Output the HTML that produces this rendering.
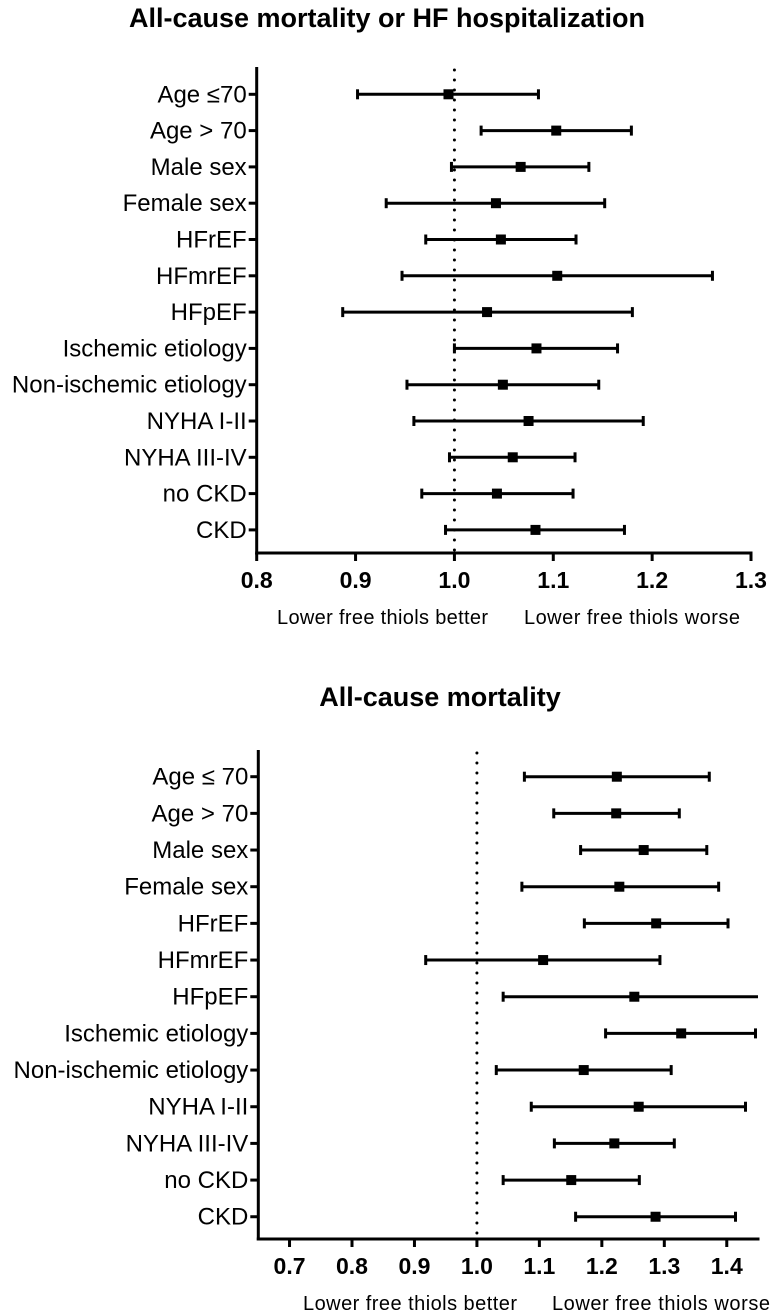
<!DOCTYPE html>
<html><head><meta charset="utf-8"><style>
html,body{margin:0;padding:0;background:#fff}
svg{display:block}
text{font-family:"Liberation Sans",Arial,sans-serif;fill:#000}
</style></head><body>
<svg id="fig" width="774" height="1314" viewBox="0 0 774 1314" xmlns="http://www.w3.org/2000/svg"></svg>
<script>
const categoriesTop = ["Age \u226470","Age > 70","Male sex","Female sex","HFrEF","HFmrEF","HFpEF","Ischemic etiology","Non-ischemic etiology","NYHA I-II","NYHA III-IV","no CKD","CKD"];
const pointTop = [0.994,1.103,1.067,1.042,1.047,1.104,1.033,1.083,1.049,1.075,1.059,1.043,1.082];
const lowerTop = [0.902,1.027,0.997,0.931,0.971,0.947,0.887,1.000,0.952,0.959,0.995,0.967,0.991];
const upperTop = [1.085,1.179,1.136,1.152,1.123,1.261,1.180,1.165,1.146,1.191,1.122,1.120,1.172];
const ticksTop = ["0.8","0.9","1.0","1.1","1.2","1.3"];

const categoriesBot = ["Age \u2264 70","Age > 70","Male sex","Female sex","HFrEF","HFmrEF","HFpEF","Ischemic etiology","Non-ischemic etiology","NYHA I-II","NYHA III-IV","no CKD","CKD"];
const pointBot = [1.224,1.223,1.267,1.228,1.287,1.106,1.252,1.327,1.171,1.259,1.220,1.151,1.286];
const lowerBot = [1.076,1.123,1.166,1.072,1.172,0.918,1.042,1.206,1.031,1.087,1.124,1.042,1.158];
const upperBot = [1.372,1.324,1.368,1.387,1.402,1.293,1.46,1.446,1.311,1.430,1.316,1.260,1.414];
const ticksBot = ["0.7","0.8","0.9","1.0","1.1","1.2","1.3","1.4"];

const NS="http://www.w3.org/2000/svg";
const svg=document.getElementById('fig');
function mk(tag,attrs,parent){const e=document.createElementNS(NS,tag);for(const k in attrs)e.setAttribute(k,attrs[k]);(parent||svg).appendChild(e);return e;}

function panel(o){
  const g=mk('g',{});
  
  
  const xs=v=>o.x0+(v-o.vmin)/(o.vmax-o.vmin)*(o.x1-o.x0);
  const ys=i=>o.yFirst+i*o.dy;
  const t=mk('text',{x:o.titleX,y:o.titleY,'text-anchor':'middle','font-size':27,'font-weight':'bold'},g);
  t.textContent=o.title;
  
  
  const ref=mk('line',{x1:xs(1),x2:xs(1),y1:o.yTop+3,y2:o.yAxis,stroke:'#000','stroke-width':3,'stroke-linecap':'round','stroke-dasharray':'0 10'},g);
  
  
  const ya=mk('line',{x1:o.x0,x2:o.x0,y1:o.yTop,y2:o.yAxis+1.5,stroke:'#000','stroke-width':3},g);
  
  
  const xa=mk('line',{x1:o.x0-1.5,x2:o.x1+1.5,y1:o.yAxis,y2:o.yAxis,stroke:'#000','stroke-width':3},g);
  
  
  o.ticks.forEach(tk=>{
    const v=parseFloat(tk),x=xs(v);
    const l=mk('line',{x1:x,x2:x,y1:o.yAxis,y2:o.yAxis+8,stroke:'#000','stroke-width':3},g);
    
    
    const tt=mk('text',{x:x,y:o.yAxis+35,'text-anchor':'middle','font-size':23,'font-weight':'bold'},g);
    tt.textContent=tk;
    
    
  });
  o.cats.forEach((c,i)=>{
    const y=ys(i);
    const tl=mk('line',{x1:o.x0-8,x2:o.x0,y1:y,y2:y,stroke:'#000','stroke-width':3},g);
    
    
    const lab=mk('text',{x:o.x0-10,y:y+8,'text-anchor':'end','font-size':o.labelSize},g);
    lab.textContent=c;
    
    
    const lo=Math.max(o.lower[i],o.vmin), hi=Math.min(o.upper[i],o.vmax);
    const eb=mk('line',{x1:xs(lo),x2:xs(hi),y1:y,y2:y,stroke:'#000','stroke-width':3},g);
    
    
    [[o.lower[i],lo],[o.upper[i],hi]].forEach(([raw,cl])=>{
      if(raw===cl){
        const cap=mk('line',{x1:xs(cl),x2:xs(cl),y1:y-5,y2:y+5,stroke:'#000','stroke-width':3},g);
        
        
      }
    });
    const px=xs(o.point[i]);
    const m=mk('rect',{x:px-5,y:y-5,width:10,height:10,fill:'#000'},g);
    
    
  });
  const f1=mk('text',{x:o.fb[0],y:o.footY,'font-size':20,textLength:o.fb[1]-o.fb[0]},g);
  f1.textContent='Lower free thiols better';
  
  
  const f2=mk('text',{x:o.fw[0],y:o.footY,'font-size':20,textLength:o.fw[1]-o.fw[0]},g);
  f2.textContent='Lower free thiols worse';
  
  
}

panel({name:'top-chart-mortality-or-hf-hospitalization',title:'All-cause mortality or HF hospitalization',titleX:387,titleY:27,
  cats:categoriesTop,point:pointTop,lower:lowerTop,upper:upperTop,ticks:ticksTop,
  vmin:0.8,vmax:1.3,x0:256.7,x1:751,yTop:67,yAxis:553,yFirst:94.3,dy:36.3,labelSize:24,
  footY:624,fb:[277,488],fw:[524,740]});
panel({name:'bottom-chart-all-cause-mortality',title:'All-cause mortality',titleX:440,titleY:706,
  cats:categoriesBot,point:pointBot,lower:lowerBot,upper:upperBot,ticks:ticksBot,
  vmin:0.65,vmax:1.45,x0:258.3,x1:758,yTop:750,yAxis:1239,yFirst:776.7,dy:36.67,labelSize:24,
  footY:1310,fb:[303,517],fw:[552,770]});
</script>
</body></html>
